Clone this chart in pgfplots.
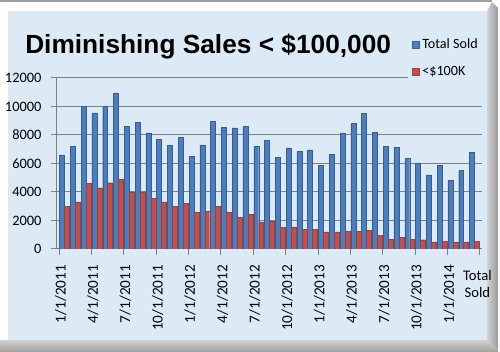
\documentclass[border=0pt]{standalone}
\usepackage{pgfplots}
\pgfplotsset{compat=1.18}
\usepackage{fontspec}
\setmainfont{Carlito}
\newfontfamily\arialfont{Liberation Sans}
\definecolor{bgblue}{RGB}{220,234,246}
\definecolor{barblue}{RGB}{74,126,190}
\definecolor{barred}{RGB}{192,80,77}
\definecolor{gridgray}{RGB}{128,128,128}
\begin{document}
\begin{tikzpicture}
\begin{scope}[x=0.75pt,y=-0.75pt]
  \fill[white] (0,0) rectangle (500,352);
  \fill[bgblue] (8,11) rectangle (487,340);
  \fill[gray!75] (0,0) rectangle (492,2);
  \shade[left color=gray!35, right color=gray!80] (487,11) -- (492,2) -- (498,8) -- (498,350) -- (487,340) -- cycle;
  \shade[top color=gray!35, bottom color=gray!75] (0,340) -- (487,340) -- (498,350) -- (498,352) -- (0,352) -- cycle;
  \node[anchor=base west, inner sep=0pt, font=\arialfont\bfseries\fontsize{19.7}{23}\selectfont] at (25,54) {Diminishing Sales < \$100,000};
\end{scope}
\begin{axis}[
  at={(42.75pt,-186.75pt)}, anchor=south west,
  scale only axis, width=318.75pt, height=128.25pt,
  xmin=0.3, xmax=39.7, ymin=0, ymax=12000,
  ybar=0pt, bar width=0.46,
  axis x line*=bottom, axis y line*=left,
  axis line style={gridgray, line width=0.75pt},
  ymajorgrids, grid style={gridgray, line width=0.75pt},
  ytick={0,2000,...,12000},
  scaled y ticks=false,
  /pgf/number format/assume math mode=true,
  /pgf/number format/1000 sep={},
  yticklabel style={font=\fontsize{10.8}{12}\selectfont, xshift=-3.6pt},
  tick align=outside,
  major tick length=4.5pt, minor tick length=4.5pt,
  tick style={gridgray, line width=0.75pt},
  major x tick style={draw=none},
  xtick={1,4,...,37},
  xticklabels={1/1/2011,4/1/2011,7/1/2011,10/1/2011,1/1/2012,4/1/2012,7/1/2012,10/1/2012,1/1/2013,4/1/2013,7/1/2013,10/1/2013,1/1/2014},
  minor xtick={0.5,3.5,...,36.5,39.5},
  xticklabel style={font=\fontsize{11.4}{12}\selectfont, xshift=-3pt, yshift=-4pt, rotate=90, anchor=east},
  extra x ticks={39.4},
  extra x tick labels={Total\\Sold},
  extra x tick style={major x tick style={draw=none}, xticklabel style={rotate=-90, anchor=north, align=center, font=\fontsize{11}{12.5}\selectfont, xshift=2pt, yshift=-4pt}},
  legend style={at={(axis description cs:0.826,1.269)}, anchor=north west, fill=bgblue, draw=none,
    font=\fontsize{10.6}{12}\selectfont, row sep=7.5pt, inner xsep=3pt, inner ysep=3pt},
  legend cell align=left,
  legend image code/.code={\fill[#1] (0pt,-2.6pt) rectangle (5.2pt,2.6pt);},
]
\addplot[fill=barblue, draw=barblue!75!black, line width=0.3pt] coordinates {
(1,6600)(2,7200)(3,10000)(4,9550)(5,10000)(6,10950)(7,8600)(8,8900)(9,8150)(10,7700)
(11,7250)(12,7850)(13,6500)(14,7300)(15,8950)(16,8550)(17,8500)(18,8600)(19,7200)(20,7600)
(21,6450)(22,7100)(23,6850)(24,6950)(25,5850)(26,6650)(27,8150)(28,8800)(29,9500)(30,8200)
(31,7200)(32,7150)(33,6350)(34,6050)(35,5200)(36,5850)(37,4800)(38,5500)(39,6800)};
\addlegendentry{Total Sold}
\addplot[fill=barred, draw=barred!80!black, line width=0.3pt] coordinates {
(1,3000)(2,3300)(3,4600)(4,4300)(5,4650)(6,4900)(7,4000)(8,4000)(9,3550)(10,3300)
(11,3000)(12,3200)(13,2550)(14,2650)(15,3000)(16,2550)(17,2200)(18,2450)(19,1900)(20,1950)
(21,1500)(22,1550)(23,1400)(24,1400)(25,1200)(26,1200)(27,1250)(28,1250)(29,1300)(30,950)
(31,700)(32,800)(33,700)(34,650)(35,500)(36,550)(37,500)(38,500)(39,550)};
\addlegendentry{<\$100K}
\end{axis}
\pgfresetboundingbox
\path[use as bounding box] (0,0) rectangle (375pt,-264pt);
\end{tikzpicture}
\end{document}
